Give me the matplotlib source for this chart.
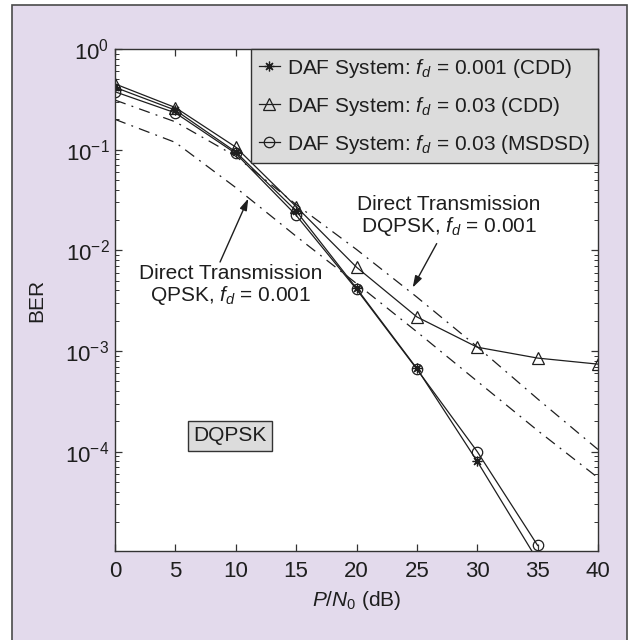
import matplotlib
matplotlib.use('Agg')
import matplotlib.pyplot as plt
from matplotlib.patches import Rectangle

plt.rcParams['font.family'] = ['Liberation Sans', 'DejaVu Sans']
plt.rcParams['mathtext.fontset'] = 'custom'
plt.rcParams['mathtext.rm'] = 'Liberation Sans'
plt.rcParams['mathtext.it'] = 'Liberation Sans:italic'
plt.rcParams['mathtext.bf'] = 'Liberation Sans:bold'

# data (P/N0 in dB, BER)
snr = [0, 5, 10, 15, 20, 25, 30, 35, 40]
snr_short = [0, 5, 10, 15, 20, 25, 30, 35]
ber_cdd_001 = [0.416, 0.247, 0.095, 0.0246, 0.0042, 6.7e-4, 8.0e-5, 8.3e-6]
ber_cdd_03 = [0.45, 0.262, 0.106, 0.0272, 6.8e-3, 2.18e-3, 1.09e-3, 8.5e-4, 7.4e-4]
ber_msdsd_03 = [0.376, 0.232, 0.0917, 0.0223, 4.1e-3, 6.6e-4, 1.0e-4, 1.17e-5]
ber_direct_dqpsk = [0.311, 0.189, 0.086, 0.0285, 0.0102, 3.43e-3, 1.10e-3, 3.34e-4, 1.05e-4]
ber_direct_qpsk = [0.2, 0.118, 0.042, 0.0138, 4.68e-3, 1.55e-3, 5.0e-4, 1.62e-4, 5.5e-5]

labels = [r'DAF System: $f_d$ = 0.001 (CDD)',
          r'DAF System: $f_d$ = 0.03 (CDD)',
          r'DAF System: $f_d$ = 0.03 (MSDSD)']

ink = '#1e1e1e'
fs = 15

fig = plt.figure(figsize=(6.35, 6.4), dpi=100)
fig.patch.set_facecolor('white')
fig.add_artist(Rectangle((12 / 635, -0.05), 615 / 635, 1.05 - 5 / 640,
                         transform=fig.transFigure, facecolor='#e3daec',
                         edgecolor='#4a4a4a', lw=1.2, zorder=-10))

ax = fig.add_axes([115 / 635, 1 - 551 / 640, 483 / 635, 502 / 640])
ax.set_facecolor('white')

ax.plot(snr_short, ber_cdd_001, color=ink, lw=0.9, marker=(8, 2, 0),
        ms=7, mew=0.9, label=labels[0])
ax.plot(snr, ber_cdd_03, color=ink, lw=0.9, marker='^', ms=9,
        mfc='none', mew=0.9, label=labels[1])
ax.plot(snr_short, ber_msdsd_03, color=ink, lw=0.9, marker='o', ms=7.5,
        mfc='none', mew=0.9, label=labels[2])
ax.plot(snr, ber_direct_dqpsk, color=ink, lw=0.9, ls=(0, (9, 5, 1.5, 5)))
ax.plot(snr, ber_direct_qpsk, color=ink, lw=0.9, ls=(0, (9, 5, 1.5, 5)))

ax.set_yscale('log')
ax.set_xlim(0, 40)
ax.set_ylim(1.03e-5, 1)
ax.set_xticks(range(0, 41, 5))
ax.set_yticks([1e-4, 1e-3, 1e-2, 1e-1, 1e0])
ax.tick_params(which='both', direction='in', top=True, right=True,
               colors='#333333', labelcolor=ink, labelsize=16)
ax.tick_params(which='major', length=5, width=0.9)
ax.tick_params(which='minor', length=3, width=0.7)
ax.tick_params(axis='x', pad=7)
ax.tick_params(axis='y', pad=4)
for s in ax.spines.values():
    s.set_color('#333333')
    s.set_linewidth(1.0)

ax.set_xlabel(r'$P/N_0$ (dB)', fontsize=fs, color=ink, labelpad=5)
ax.set_ylabel('BER', fontsize=fs, color=ink, labelpad=14)

leg = ax.legend(loc='upper right', borderaxespad=0, fontsize=fs,
                handlelength=1.0, handletextpad=0.35, labelspacing=0.72,
                borderpad=0.36, fancybox=False, framealpha=1)
leg.get_frame().set_facecolor('#dcdcdc')
leg.get_frame().set_edgecolor('#333333')
leg.get_frame().set_linewidth(1.0)
for t in leg.get_texts():
    t.set_color(ink)

arrow = dict(arrowstyle='-|>,head_length=0.7,head_width=0.22', color=ink,
             lw=1.0, shrinkA=0, shrinkB=0)
ax.annotate('', xy=(11.04, 0.0327), xytext=(8.70, 7.65e-3), arrowprops=arrow)
ax.annotate('', xy=(24.65, 4.26e-3), xytext=(26.64, 0.01166), arrowprops=arrow)
ax.text(9.61, 4.43e-3, 'Direct Transmission\nQPSK, $f_d$ = 0.001',
        ha='center', va='center', fontsize=fs, color=ink, linespacing=1.05)
ax.text(27.66, 0.0216, 'Direct Transmission\nDQPSK, $f_d$ = 0.001',
        ha='center', va='center', fontsize=fs, color=ink, linespacing=1.05)
ax.text(9.5, 1.43e-4, 'DQPSK', ha='center', va='center', fontsize=fs,
        color=ink, bbox=dict(boxstyle='square,pad=0.25', fc='#dcdcdc',
                             ec='#333333', lw=1.0))

fig.savefig('out.png', dpi=100)
